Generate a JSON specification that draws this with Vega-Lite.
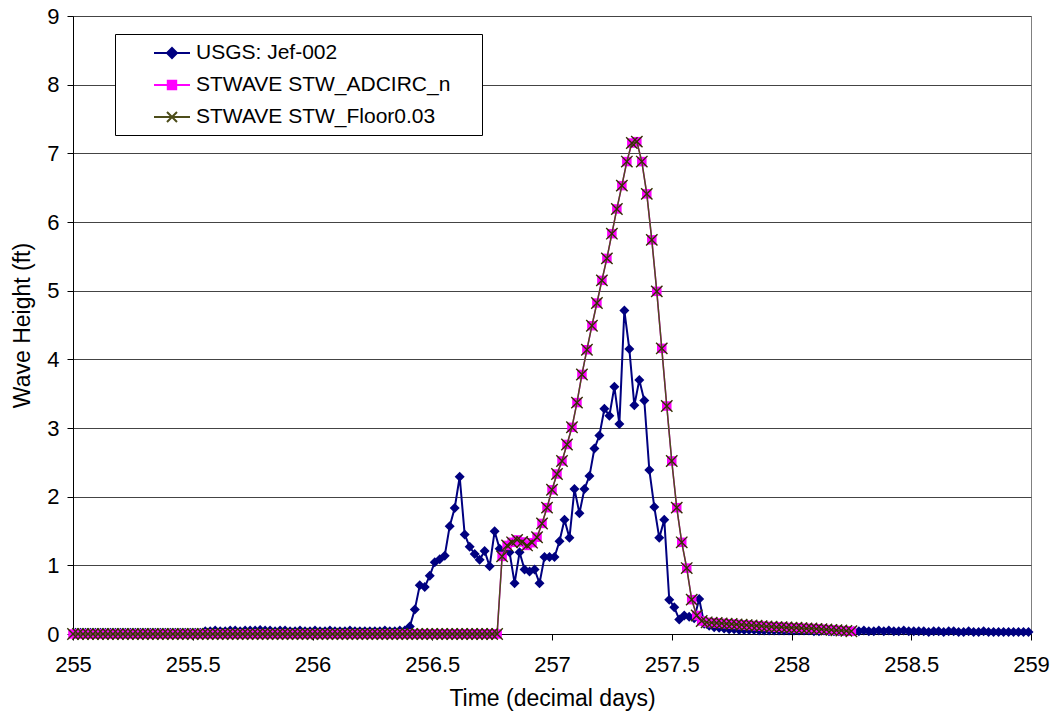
{
"$schema":"https://vega.github.io/schema/vega-lite/v6.json",
"width":958,"height":618,
"autosize":"none",
"padding":{"left":73,"top":16,"right":23,"bottom":80},
"background":"white",
"config":{
 "font":"Liberation Sans",
 "view":{"stroke":"#808080","strokeWidth":1},
 "axis":{"labelFont":"Liberation Sans","titleFont":"Liberation Sans","labelColor":"#000","titleColor":"#000","labelFontSize":22,"titleFontSize":23,"titleFontWeight":"normal","domainColor":"#000","tickColor":"#000","tickSize":6,"domainWidth":1,"tickWidth":1}
},
"datasets":{
"u":[
{"t":255.0104,"h":0.02},{"t":255.0313,"h":0.02},{"t":255.0521,"h":0.02},{"t":255.0729,"h":0.02},{"t":255.0938,"h":0.02},{"t":255.1146,"h":0.02},{"t":255.1354,"h":0.02},{"t":255.1563,"h":0.02},{"t":255.1771,"h":0.02},{"t":255.1979,"h":0.02},{"t":255.2188,"h":0.02},{"t":255.2396,"h":0.02},
{"t":255.2604,"h":0.02},{"t":255.2813,"h":0.02},{"t":255.3021,"h":0.02},{"t":255.3229,"h":0.02},{"t":255.3438,"h":0.02},{"t":255.3646,"h":0.02},{"t":255.3854,"h":0.02},{"t":255.4063,"h":0.02},{"t":255.4271,"h":0.02},{"t":255.4479,"h":0.02},{"t":255.4688,"h":0.02},{"t":255.4896,"h":0.02},
{"t":255.5104,"h":0.02},{"t":255.5313,"h":0.02},{"t":255.5521,"h":0.04},{"t":255.5729,"h":0.04},{"t":255.5938,"h":0.05},{"t":255.6146,"h":0.04},{"t":255.6354,"h":0.04},{"t":255.6563,"h":0.05},{"t":255.6771,"h":0.05},{"t":255.6979,"h":0.04},{"t":255.7188,"h":0.05},{"t":255.7396,"h":0.05},
{"t":255.7604,"h":0.05},{"t":255.7813,"h":0.06},{"t":255.8021,"h":0.05},{"t":255.8229,"h":0.05},{"t":255.8438,"h":0.04},{"t":255.8646,"h":0.05},{"t":255.8854,"h":0.05},{"t":255.9063,"h":0.04},{"t":255.9271,"h":0.04},{"t":255.9479,"h":0.05},{"t":255.9688,"h":0.04},{"t":255.9896,"h":0.04},
{"t":256.0104,"h":0.05},{"t":256.0313,"h":0.04},{"t":256.0521,"h":0.04},{"t":256.0729,"h":0.05},{"t":256.0938,"h":0.04},{"t":256.1146,"h":0.04},{"t":256.1354,"h":0.04},{"t":256.1563,"h":0.05},{"t":256.1771,"h":0.04},{"t":256.1979,"h":0.04},{"t":256.2188,"h":0.04},{"t":256.2396,"h":0.04},
{"t":256.2604,"h":0.04},{"t":256.2813,"h":0.04},{"t":256.3021,"h":0.05},{"t":256.3229,"h":0.04},{"t":256.3438,"h":0.04},{"t":256.3646,"h":0.05},{"t":256.3854,"h":0.05},{"t":256.4063,"h":0.11},{"t":256.4271,"h":0.355},{"t":256.4479,"h":0.71},{"t":256.4688,"h":0.685},{"t":256.4896,"h":0.85},
{"t":256.5104,"h":1.045},{"t":256.5313,"h":1.09},{"t":256.5521,"h":1.14},{"t":256.5729,"h":1.57},{"t":256.5938,"h":1.835},{"t":256.6146,"h":2.29},{"t":256.6354,"h":1.45},{"t":256.6563,"h":1.27},{"t":256.6771,"h":1.165},{"t":256.6979,"h":1.08},{"t":256.7188,"h":1.21},{"t":256.7396,"h":0.985},
{"t":256.7604,"h":1.495},{"t":256.7813,"h":1.24},{"t":256.8021,"h":1.2},{"t":256.8229,"h":1.19},{"t":256.8438,"h":0.74},{"t":256.8646,"h":1.19},{"t":256.8854,"h":0.94},{"t":256.9063,"h":0.91},{"t":256.9271,"h":0.94},{"t":256.9479,"h":0.74},{"t":256.9688,"h":1.12},{"t":256.9896,"h":1.12},
{"t":257.0104,"h":1.12},{"t":257.0313,"h":1.35},{"t":257.0521,"h":1.665},{"t":257.0729,"h":1.4},{"t":257.0938,"h":2.11},{"t":257.1146,"h":1.76},{"t":257.1354,"h":2.11},{"t":257.1563,"h":2.3},{"t":257.1771,"h":2.7},{"t":257.1979,"h":2.89},{"t":257.2188,"h":3.28},{"t":257.2396,"h":3.18},
{"t":257.2604,"h":3.6},{"t":257.2813,"h":3.06},{"t":257.3021,"h":4.71},{"t":257.3229,"h":4.15},{"t":257.3438,"h":3.33},{"t":257.3646,"h":3.7},{"t":257.3854,"h":3.4},{"t":257.4063,"h":2.39},{"t":257.4271,"h":1.85},{"t":257.4479,"h":1.4},{"t":257.4688,"h":1.665},{"t":257.4896,"h":0.5},
{"t":257.5104,"h":0.39},{"t":257.5313,"h":0.21},{"t":257.5521,"h":0.27},{"t":257.5729,"h":0.25},{"t":257.5938,"h":0.23},{"t":257.6146,"h":0.51},{"t":257.6354,"h":0.15},{"t":257.6563,"h":0.12},{"t":257.6771,"h":0.1},{"t":257.6979,"h":0.09},{"t":257.7188,"h":0.08},{"t":257.7396,"h":0.07},
{"t":257.7604,"h":0.07},{"t":257.7813,"h":0.06},{"t":257.8021,"h":0.06},{"t":257.8229,"h":0.06},{"t":257.8438,"h":0.06},{"t":257.8646,"h":0.05},{"t":257.8854,"h":0.05},{"t":257.9063,"h":0.05},{"t":257.9271,"h":0.05},{"t":257.9479,"h":0.05},{"t":257.9688,"h":0.05},{"t":257.9896,"h":0.05},
{"t":258.0104,"h":0.05},{"t":258.0313,"h":0.05},{"t":258.0521,"h":0.05},{"t":258.0729,"h":0.05},{"t":258.0938,"h":0.04},{"t":258.1146,"h":0.04},{"t":258.1354,"h":0.05},{"t":258.1563,"h":0.04},{"t":258.1771,"h":0.04},{"t":258.1979,"h":0.04},{"t":258.2188,"h":0.04},{"t":258.2396,"h":0.04},
{"t":258.2604,"h":0.04},{"t":258.2813,"h":0.04},{"t":258.3021,"h":0.05},{"t":258.3229,"h":0.04},{"t":258.3438,"h":0.04},{"t":258.3646,"h":0.05},{"t":258.3854,"h":0.04},{"t":258.4063,"h":0.05},{"t":258.4271,"h":0.04},{"t":258.4479,"h":0.04},{"t":258.4688,"h":0.05},{"t":258.4896,"h":0.04},
{"t":258.5104,"h":0.04},{"t":258.5313,"h":0.04},{"t":258.5521,"h":0.04},{"t":258.5729,"h":0.03},{"t":258.5938,"h":0.04},{"t":258.6146,"h":0.04},{"t":258.6354,"h":0.03},{"t":258.6563,"h":0.04},{"t":258.6771,"h":0.04},{"t":258.6979,"h":0.03},{"t":258.7188,"h":0.03},{"t":258.7396,"h":0.04},
{"t":258.7604,"h":0.03},{"t":258.7813,"h":0.03},{"t":258.8021,"h":0.04},{"t":258.8229,"h":0.03},{"t":258.8438,"h":0.03},{"t":258.8646,"h":0.03},{"t":258.8854,"h":0.03},{"t":258.9063,"h":0.03},{"t":258.9271,"h":0.03},{"t":258.9479,"h":0.03},{"t":258.9688,"h":0.03},{"t":258.9896,"h":0.03}
],
"w":[
{"t":255,"h":0},{"t":255.0208,"h":0},{"t":255.0417,"h":0},{"t":255.0625,"h":0},{"t":255.0833,"h":0},{"t":255.1042,"h":0},{"t":255.125,"h":0},{"t":255.1458,"h":0},{"t":255.1667,"h":0},{"t":255.1875,"h":0},{"t":255.2083,"h":0},{"t":255.2292,"h":0},
{"t":255.25,"h":0},{"t":255.2708,"h":0},{"t":255.2917,"h":0},{"t":255.3125,"h":0},{"t":255.3333,"h":0},{"t":255.3542,"h":0},{"t":255.375,"h":0},{"t":255.3958,"h":0},{"t":255.4167,"h":0},{"t":255.4375,"h":0},{"t":255.4583,"h":0},{"t":255.4792,"h":0},
{"t":255.5,"h":0},{"t":255.5208,"h":0},{"t":255.5417,"h":0},{"t":255.5625,"h":0},{"t":255.5833,"h":0},{"t":255.6042,"h":0},{"t":255.625,"h":0},{"t":255.6458,"h":0},{"t":255.6667,"h":0},{"t":255.6875,"h":0},{"t":255.7083,"h":0},{"t":255.7292,"h":0},
{"t":255.75,"h":0},{"t":255.7708,"h":0},{"t":255.7917,"h":0},{"t":255.8125,"h":0},{"t":255.8333,"h":0},{"t":255.8542,"h":0},{"t":255.875,"h":0},{"t":255.8958,"h":0},{"t":255.9167,"h":0},{"t":255.9375,"h":0},{"t":255.9583,"h":0},{"t":255.9792,"h":0},
{"t":256,"h":0},{"t":256.0208,"h":0},{"t":256.0417,"h":0},{"t":256.0625,"h":0},{"t":256.0833,"h":0},{"t":256.1042,"h":0},{"t":256.125,"h":0},{"t":256.1458,"h":0},{"t":256.1667,"h":0},{"t":256.1875,"h":0},{"t":256.2083,"h":0},{"t":256.2292,"h":0},
{"t":256.25,"h":0},{"t":256.2708,"h":0},{"t":256.2917,"h":0},{"t":256.3125,"h":0},{"t":256.3333,"h":0},{"t":256.3542,"h":0},{"t":256.375,"h":0},{"t":256.3958,"h":0},{"t":256.4167,"h":0},{"t":256.4375,"h":0},{"t":256.4583,"h":0},{"t":256.4792,"h":0},
{"t":256.5,"h":0},{"t":256.5208,"h":0},{"t":256.5417,"h":0},{"t":256.5625,"h":0},{"t":256.5833,"h":0},{"t":256.6042,"h":0},{"t":256.625,"h":0},{"t":256.6458,"h":0},{"t":256.6667,"h":0},{"t":256.6875,"h":0},{"t":256.7083,"h":0},{"t":256.7292,"h":0},
{"t":256.75,"h":0},{"t":256.7708,"h":0},{"t":256.7917,"h":1.13},{"t":256.8125,"h":1.29},{"t":256.8333,"h":1.335},{"t":256.8542,"h":1.37},{"t":256.875,"h":1.34},{"t":256.8958,"h":1.29},{"t":256.9167,"h":1.33},{"t":256.9375,"h":1.41},{"t":256.9583,"h":1.61},{"t":256.9792,"h":1.84},
{"t":257,"h":2.1},{"t":257.0208,"h":2.33},{"t":257.0417,"h":2.52},{"t":257.0625,"h":2.76},{"t":257.0833,"h":3.01},{"t":257.1042,"h":3.37},{"t":257.125,"h":3.78},{"t":257.1458,"h":4.14},{"t":257.1667,"h":4.49},{"t":257.1875,"h":4.82},{"t":257.2083,"h":5.15},{"t":257.2292,"h":5.47},
{"t":257.25,"h":5.83},{"t":257.2708,"h":6.19},{"t":257.2917,"h":6.53},{"t":257.3125,"h":6.88},{"t":257.3333,"h":7.15},{"t":257.3542,"h":7.17},{"t":257.375,"h":6.88},{"t":257.3958,"h":6.41},{"t":257.4167,"h":5.74},{"t":257.4375,"h":4.99},{"t":257.4583,"h":4.16},{"t":257.4792,"h":3.32},
{"t":257.5,"h":2.52},{"t":257.5208,"h":1.84},{"t":257.5417,"h":1.335},{"t":257.5625,"h":0.96},{"t":257.5833,"h":0.5},{"t":257.6042,"h":0.27},{"t":257.625,"h":0.19},{"t":257.6458,"h":0.17},{"t":257.6667,"h":0.165},{"t":257.6875,"h":0.16},{"t":257.7083,"h":0.155},{"t":257.7292,"h":0.15},
{"t":257.75,"h":0.145},{"t":257.7708,"h":0.14},{"t":257.7917,"h":0.135},{"t":257.8125,"h":0.13},{"t":257.8333,"h":0.125},{"t":257.8542,"h":0.12},{"t":257.875,"h":0.115},{"t":257.8958,"h":0.11},{"t":257.9167,"h":0.105},{"t":257.9375,"h":0.1},{"t":257.9583,"h":0.1},{"t":257.9792,"h":0.095},
{"t":258,"h":0.09},{"t":258.0208,"h":0.09},{"t":258.0417,"h":0.085},{"t":258.0625,"h":0.08},{"t":258.0833,"h":0.08},{"t":258.1042,"h":0.075},{"t":258.125,"h":0.07},{"t":258.1458,"h":0.065},{"t":258.1667,"h":0.06},{"t":258.1875,"h":0.055},{"t":258.2083,"h":0.05},{"t":258.2292,"h":0.045},
{"t":258.25,"h":0.04}
]
},
"encoding":{
 "x":{"field":"t","type":"quantitative","scale":{"domain":[255,259],"nice":false,"zero":false},
  "axis":{"title":"Time (decimal days)","values":[255,255.5,256,256.5,257,257.5,258,258.5,259],"format":"~g","grid":false,"labelPadding":14,"titlePadding":12,"labelFlush":false}},
 "y":{"field":"h","type":"quantitative","scale":{"domain":[0,9],"nice":false},
  "axis":{"title":"Wave Height (ft)","values":[0,1,2,3,4,5,6,7,8,9],"grid":true,"gridColor":"#444","gridWidth":1,"labelPadding":8,"titlePadding":12}}
},
"layer":[
 {"data":{"name":"u"},"mark":{"type":"line","strokeWidth":2},
  "encoding":{"color":{"datum":"U","type":"nominal",
   "scale":{"domain":["U","A","F"],"range":["#000080","#FF00FF","#4d4d1a"]},
   "legend":{"title":null,"orient":"none","legendX":42,"legendY":18,"strokeColor":"#000","fillColor":"#fff","padding":8,
    "labelFont":"Liberation Sans","labelFontSize":21,"labelColor":"#000","labelLimit":0,"symbolSize":400,"labelOffset":51,"rowPadding":11,
    "labelExpr":"datum.value==='U'?'USGS: Jef-002':datum.value==='A'?'STWAVE STW_ADCIRC_n    \u200b':'STWAVE STW_Floor0.03'",
    "encode":{"symbols":{"update":{
     "shape":{"signal":"datum.value==='U'?'M2,0H5.6M3.8,-0.5L4.3,0L3.8,0.5L3.3,0Z':datum.value==='A'?'M2,0H5.6M3.38,-0.42H4.22V0.42H3.38Z':'M2,0H5.6M3.3,-0.5L4.3,0.5M3.3,0.5L4.3,-0.5'"},
     "fill":{"scale":"color","field":"value"},"stroke":{"scale":"color","field":"value"},"strokeWidth":{"value":2},"size":{"value":400},"opacity":{"value":1},"fillOpacity":{"value":1},"strokeOpacity":{"value":1}}}}}}}},
 {"data":{"name":"u"},"mark":{"type":"point","shape":"diamond","filled":true,"color":"#000080","size":100,"opacity":1}},
 {"data":{"name":"w"},"mark":{"type":"line","strokeWidth":1.5},"encoding":{"color":{"datum":"A","type":"nominal"}}},
 {"data":{"name":"w"},"mark":{"type":"point","shape":"square","filled":true,"color":"#FF00FF","size":90,"opacity":1}},
 {"data":{"name":"w"},"mark":{"type":"line","strokeWidth":1.5},"encoding":{"color":{"datum":"F","type":"nominal"}}},
 {"data":{"name":"w"},"mark":{"type":"point","shape":"M-1,-1L1,1M-1,1L1,-1","filled":false,"stroke":"#333300","strokeWidth":1.4,"size":130,"opacity":1}}
]
}
